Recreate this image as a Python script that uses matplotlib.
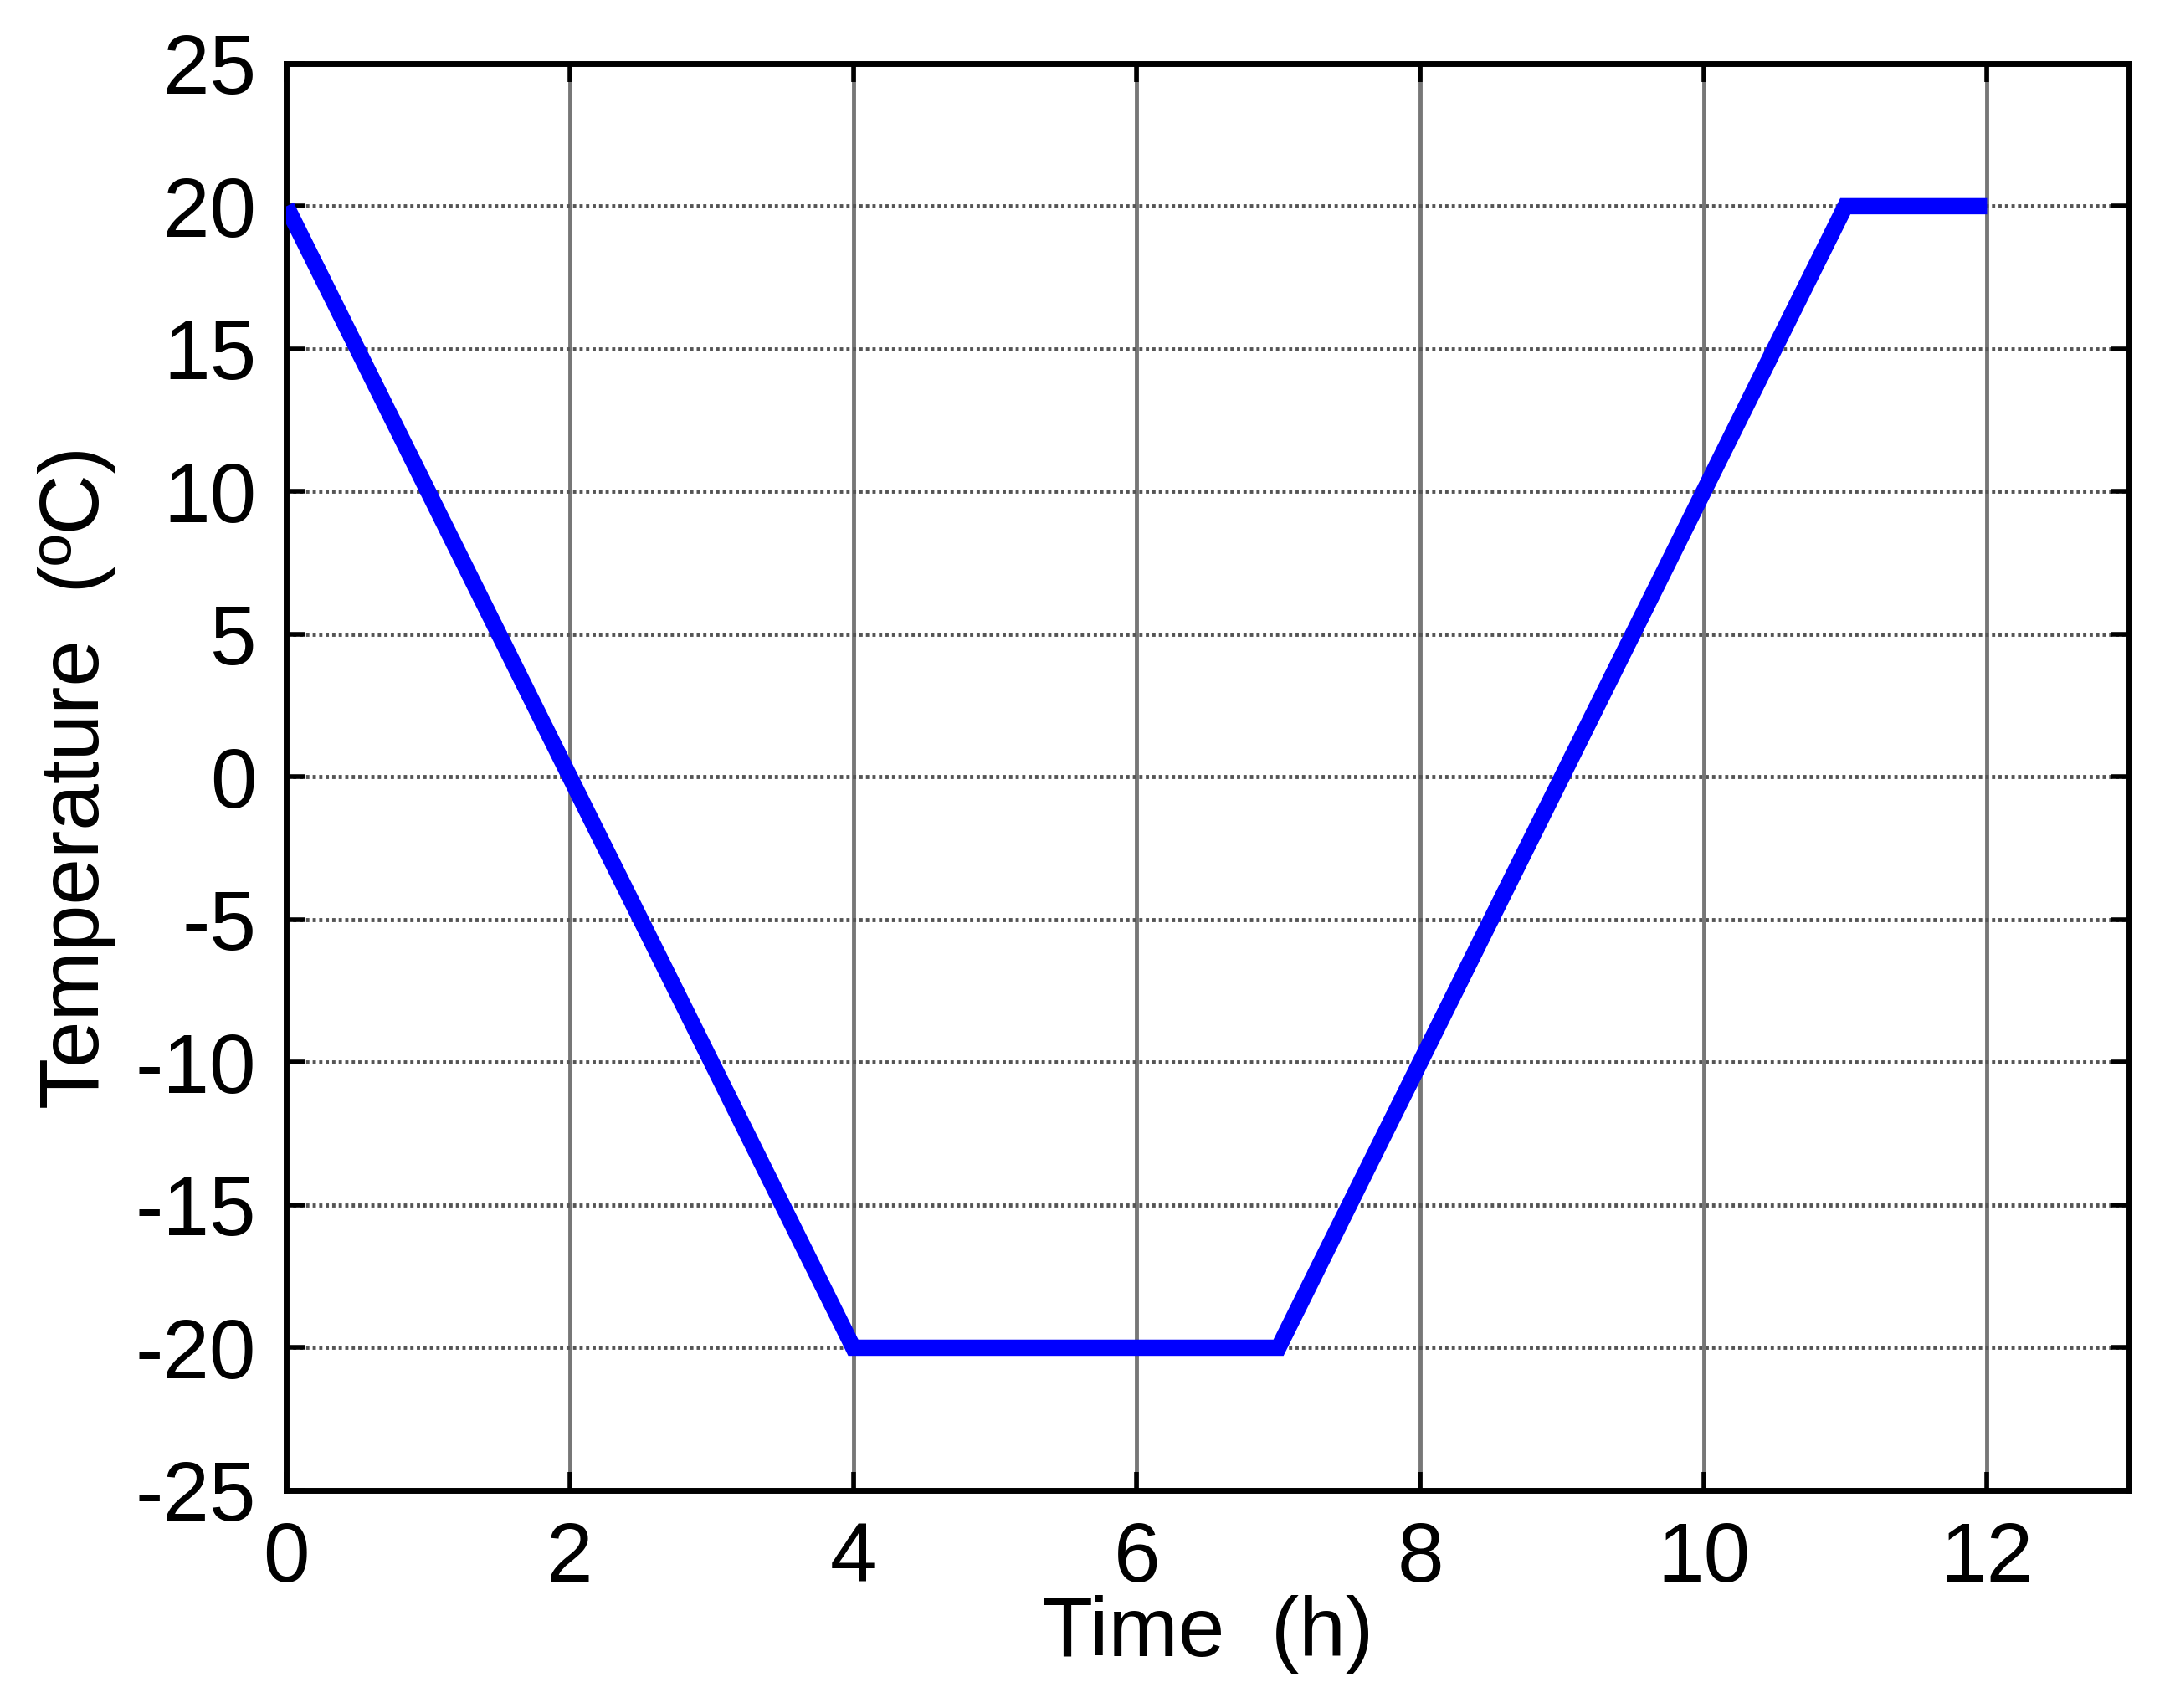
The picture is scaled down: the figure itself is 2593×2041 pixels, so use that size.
import matplotlib
matplotlib.use('Agg')
import matplotlib.pyplot as plt

# temperature profile
time_h = [0, 4, 7, 11, 12]
temp_c = [20, -20, -20, 20, 20]

x_ticks = [0, 2, 4, 6, 8, 10, 12]
y_ticks = [-25, -20, -15, -10, -5, 0, 5, 10, 15, 20, 25]

plt.rcParams['font.family'] = ['Liberation Sans', 'DejaVu Sans']
plt.rcParams['axes.unicode_minus'] = False

fig = plt.figure(figsize=(25.93, 20.41), dpi=100)
ax = fig.add_axes([0.132, 0.1274, 0.849, 0.8354])

# grid: solid vertical, dotted horizontal
for x in x_ticks:
    ax.axvline(x, color='#777777', lw=3.5, zorder=1)
for y in y_ticks:
    ax.axhline(y, color='#555555', lw=3.5, ls=(0, (0.8, 0.8)), zorder=1)

ax.plot(time_h, temp_c, color='#0000ff', lw=14, solid_joinstyle='miter',
        solid_capstyle='butt', zorder=3)

ax.set_xlim(0, 13)
ax.set_ylim(-25, 25)
ax.set_xticks(x_ticks)
ax.set_yticks(y_ticks)
ax.tick_params(direction='in', length=16, width=4, labelsize=72,
               top=True, right=True, pad=26)
ax.tick_params(axis='x', pad=26)
for s in ax.spines.values():
    s.set_linewidth(5)

ax.set_xlabel('Time  (h)', fontsize=72, labelpad=-4)
ax.set_ylabel('Temperature  (ºC)', fontsize=72, labelpad=16)

fig.savefig('out.png', dpi=100, facecolor='white')
